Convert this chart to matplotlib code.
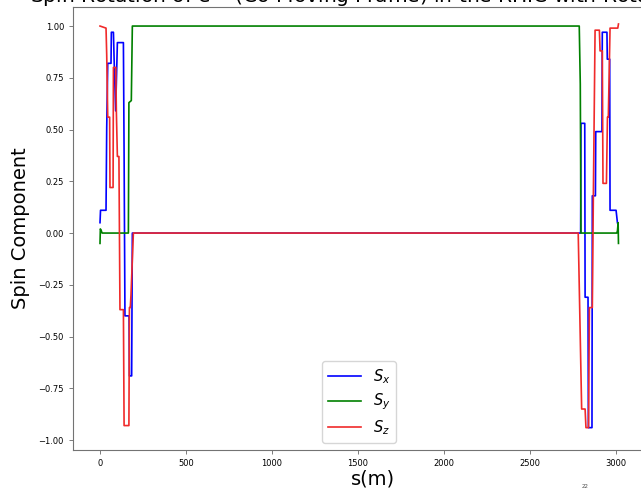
import numpy as np
import matplotlib
matplotlib.use("Agg")
import matplotlib.pyplot as plt

# spin components along the ring (s in metres)
sx_s = [0, 3, 35, 39, 45, 64, 66, 78, 82, 91, 101, 136, 140, 145, 169, 171, 184, 188,
        2794, 2796, 2818, 2820, 2837, 2839, 2860, 2862, 2880, 2882, 2918, 2920,
        2947, 2949, 2963, 2965, 3000, 3008]
sx_v = [0.05, 0.11, 0.11, 0.51, 0.82, 0.82, 0.97, 0.97, 0.84, 0.59, 0.92, 0.92, 0.39, -0.40,
        -0.40, -0.69, -0.69, 0.0,
        0.0, 0.53, 0.53, -0.31, -0.31, -0.94, -0.94, 0.18, 0.18, 0.49, 0.49, 0.97,
        0.97, 0.84, 0.84, 0.11, 0.11, 0.05]

sy_s = [0, 2, 8, 12, 165, 168, 182, 188, 2786, 2792, 2796, 3004, 3008, 3012, 3014]
sy_v = [-0.05, 0.02, 0.01, 0.0, 0.0, 0.63, 0.64, 1.0, 1.0, 0.72, 0.0, 0.0, 0.01, 0.05, -0.05]

sz_s = [0, 35, 39, 45, 56, 58, 76, 78, 92, 95, 101, 110, 116, 136, 140, 168, 171, 176, 180, 194,
        2780, 2800, 2820, 2825, 2840, 2845, 2862, 2868, 2878, 2903, 2907, 2920, 2924, 2944,
        2950, 2955, 2965, 3010, 3014]
sz_v = [1.0, 0.99, 0.86, 0.56, 0.56, 0.22, 0.22, 0.80, 0.80, 0.59, 0.37, 0.37, -0.37, -0.37,
        -0.93, -0.93, -0.36, -0.36, -0.30, 0.0,
        0.0, -0.85, -0.85, -0.94, -0.94, -0.36, -0.36, 0.18, 0.98, 0.98, 0.88, 0.88, 0.24, 0.24,
        0.56, 0.56, 0.99, 0.99, 1.01]

title = "Spin Rotation of e$^-$ (Co-Moving Frame) in the RHIC with Rotators"

fig = plt.figure(figsize=(6.41, 4.91), dpi=100)
# the reference is a cropped screenshot: the right spine falls outside the picture
ax = fig.add_axes([73/641, 41/491, 600/641, 443/491])

ax.plot(sx_s, sx_v, color="b", lw=1.2, label="$S_x$")
ax.plot(sy_s, sy_v, color="g", lw=1.2, label="$S_y$")
ax.plot(sz_s, sz_v, color="#f02a2a", lw=1.2, label="$S_z$")

ax.set_xlim(-157, 3331)
ax.set_ylim(-1.048, 1.092)
ax.set_xticks([0, 500, 1000, 1500, 2000, 2500, 3000])
ax.set_yticks([-1.0, -0.75, -0.5, -0.25, 0.0, 0.25, 0.5, 0.75, 1.0])
ax.tick_params(labelsize=6, length=3, width=0.6, color="0.4")
for sp in ax.spines.values():
    sp.set_color("0.45")
    sp.set_linewidth(0.8)

ax.set_xlabel("s(m)", fontsize=14, labelpad=1)
ax.set_ylabel("Spin Component", fontsize=14, labelpad=6)
ax.legend(loc="lower center", fontsize=10.5, handlelength=2.3, labelspacing=0.4,
          bbox_to_anchor=(359/641, 41/491), bbox_transform=fig.transFigure)

fig.text(30/641, 1 - 2/491, title, fontsize=14.5, ha="left", va="baseline")
fig.text(585/641, 1 - 487/491, "22", fontsize=4, ha="center", va="center", color="0.3")

fig.savefig("out.png", dpi=100)
